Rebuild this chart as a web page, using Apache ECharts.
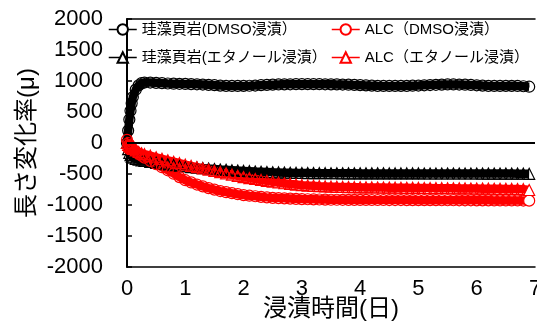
<!DOCTYPE html>
<html>
<head>
<meta charset="utf-8">
<script src="https://cdn.jsdelivr.net/npm/echarts@6/dist/echarts.min.js"></script>
<style>html,body{margin:0;padding:0;background:#fff;}#c{width:537px;height:331px;}</style>
</head>
<body>
<div id="c"></div>
<script>
const seriesNames = ['珪藻頁岩(DMSO浸漬）', '珪藻頁岩(エタノール浸漬）', 'ALC（DMSO浸漬）', 'ALC（エタノール浸漬）'];
const xTicks = [0, 1, 2, 3, 4, 5, 6, 7];
const yTicks = [-2000, -1500, -1000, -500, 0, 500, 1000, 1500, 2000];
const days = [0,0.02,0.04,0.06,0.08,0.1,0.15,0.2,0.25,0.3,
  0.4,0.5,0.6,0.7,0.8,0.9,1.0,
  1.1,1.2,1.3,1.4,1.5,1.6,1.7,1.8,1.9,2.0,
  2.1,2.2,2.3,2.4,2.5,2.6,2.7,2.8,2.9,3.0,
  3.1,3.2,3.3,3.4,3.5,3.6,3.7,3.8,3.9,4.0,
  4.1,4.2,4.3,4.4,4.5,4.6,4.7,4.8,4.9,5.0,
  5.1,5.2,5.3,5.4,5.5,5.6,5.7,5.8,5.9,6.0,
  6.1,6.2,6.3,6.4,6.5,6.6,6.7,6.8,6.9];
// 珪藻頁岩 DMSO
const diatomDmso = [0,200,380,520,640,740,860,930,965,975,
  975,970,965,960,957,955,953,
  950,947,943,938,932,926,922,920,920,921,
  923,927,932,937,941,944,946,947,948,948,
  948,948,948,947,946,945,943,940,937,933,
  929,925,922,920,920,920,921,922,924,927,
  931,935,939,942,944,944,943,940,936,931,
  926,922,920,920,921,922,920,915,908];
// 珪藻頁岩 エタノール
const diatomEtoh = [0,-100,-160,-195,-220,-235,-255,-268,-280,-290,
  -305,-320,-333,-345,-356,-367,-378,
  -388,-397,-405,-413,-420,-427,-433,-439,-445,-450,
  -455,-460,-464,-468,-472,-475,-478,-480,-482,-484,
  -485,-486,-487,-487,-488,-488,-489,-489,-489,-490,
  -490,-490,-490,-490,-491,-491,-491,-491,-491,-491,
  -492,-492,-492,-492,-492,-492,-492,-492,-492,-492,
  -493,-493,-493,-493,-493,-493,-494,-495,-497];
// ALC DMSO
const alcDmso = [50,0,-30,-55,-80,-100,-140,-175,-205,-235,
  -290,-340,-390,-440,-495,-550,-600,
  -636,-670,-700,-727,-752,-775,-793,-810,-826,-840,
  -850,-859,-868,-877,-885,-889,-893,-897,-901,-905,
  -907,-909,-911,-913,-915,-915,-916,-917,-917,-918,
  -918,-919,-919,-919,-920,-920,-920,-921,-921,-922,
  -922,-922,-922,-923,-923,-923,-924,-924,-924,-925,
  -925,-925,-926,-926,-926,-927,-927,-928,-930];
// ALC エタノール
const alcEtoh = [0,-30,-50,-65,-80,-95,-120,-145,-165,-180,
  -205,-230,-255,-280,-302,-325,-350,
  -370,-390,-410,-430,-450,-470,-490,-510,-530,-550,
  -566,-581,-596,-611,-625,-637,-649,-660,-670,-680,
  -686,-691,-696,-700,-704,-707,-709,-711,-713,-715,
  -716,-717,-718,-719,-720,-721,-722,-723,-724,-725,
  -726,-727,-728,-729,-730,-731,-732,-733,-734,-735,
  -736,-737,-738,-739,-740,-741,-742,-745,-758];

const FONT = "'Liberation Sans', 'Noto Sans CJK JP', sans-serif";

function pairs(vals, whiteLast) {
  return days.map((d, i) => {
    if (whiteLast && i === days.length - 1) {
      return { value: [d, vals[i]], itemStyle: { color: '#fff' } };
    }
    return [d, vals[i]];
  });
}

function mk(name, vals, color, symbol, whiteLast) {
  return {
    name: name, type: 'line', data: pairs(vals, whiteLast),
    symbol: symbol, symbolSize: 11, showSymbol: true,
    lineStyle: { color: color, width: 8.5 },
    itemStyle: { color: 'rgba(255,255,255,0)', borderColor: color, borderWidth: 1.2 },
    emphasis: { disabled: true }, animation: false
  };
}

const series = [
  mk(seriesNames[0], diatomDmso, '#000', 'circle', false),
  mk(seriesNames[1], diatomEtoh, '#000', 'triangle', false),
  mk(seriesNames[2], alcDmso, '#ff0000', 'circle', true),
  mk(seriesNames[3], alcEtoh, '#ff0000', 'triangle', true)
];
series[0].markLine = {
  silent: true, symbol: 'none', label: { show: false },
  lineStyle: { color: '#000', width: 2, type: 'solid' },
  data: [{ yAxis: 0 }], animation: false
};

function lg(name, left, top) {
  return {
    data: [name], left: left, top: top, itemWidth: 28, itemHeight: 13,
    padding: 0, selectedMode: false,
    itemStyle: { color: '#fff' },
    lineStyle: { width: 1.5 },
    textStyle: { fontFamily: FONT, fontSize: 15, color: '#000' }
  };
}

const chart = echarts.init(document.getElementById('c'), null, { renderer: 'canvas' });
chart.setOption({
  backgroundColor: '#fff',
  animation: false,
  textStyle: { fontFamily: FONT },
  grid: { left: 127, right: 2, top: 19, bottom: 64, containLabel: false, outerBoundsMode: 'none' },
  legend: [
    lg(seriesNames[0], 108, 22),
    lg(seriesNames[1], 108, 50),
    lg(seriesNames[2], 331, 22),
    lg(seriesNames[3], 331, 50)
  ],
  xAxis: [{
    type: 'value', min: xTicks[0], max: xTicks[xTicks.length - 1], interval: 1,
    position: 'bottom',
    axisLine: { show: true, onZero: false, lineStyle: { color: '#000', width: 1.5 } },
    axisTick: { show: false },
    splitLine: { show: false },
    axisLabel: { fontSize: 22, color: '#000', margin: 11, fontFamily: FONT },
    name: '浸漬時間(日)', nameLocation: 'middle', nameGap: 30, nameMoveOverlap: false,
    nameTextStyle: { fontSize: 24, color: '#000', fontFamily: FONT }
  }, {
    type: 'value', min: 0, max: 7, position: 'top',
    axisLine: { show: true, onZero: false, lineStyle: { color: '#000', width: 1.5 } },
    axisTick: { show: false }, axisLabel: { show: false }, splitLine: { show: false }
  }],
  yAxis: {
    type: 'value', min: yTicks[0], max: yTicks[yTicks.length - 1], interval: 500,
    axisLine: { show: true, onZero: false, lineStyle: { color: '#000', width: 2 } },
    axisTick: { show: true, inside: true, length: 5, lineStyle: { color: '#000', width: 1.5 } },
    splitLine: { show: false },
    axisLabel: { fontSize: 22, color: '#000', margin: 24, fontFamily: FONT, formatter: v => String(v) },
    name: '長さ変化率(μ)', nameLocation: 'middle', nameRotate: 90, nameGap: 88, nameMoveOverlap: false,
    nameTextStyle: { fontSize: 24, color: '#000', fontFamily: FONT }
  },
  series: series
});
</script>
</body>
</html>
